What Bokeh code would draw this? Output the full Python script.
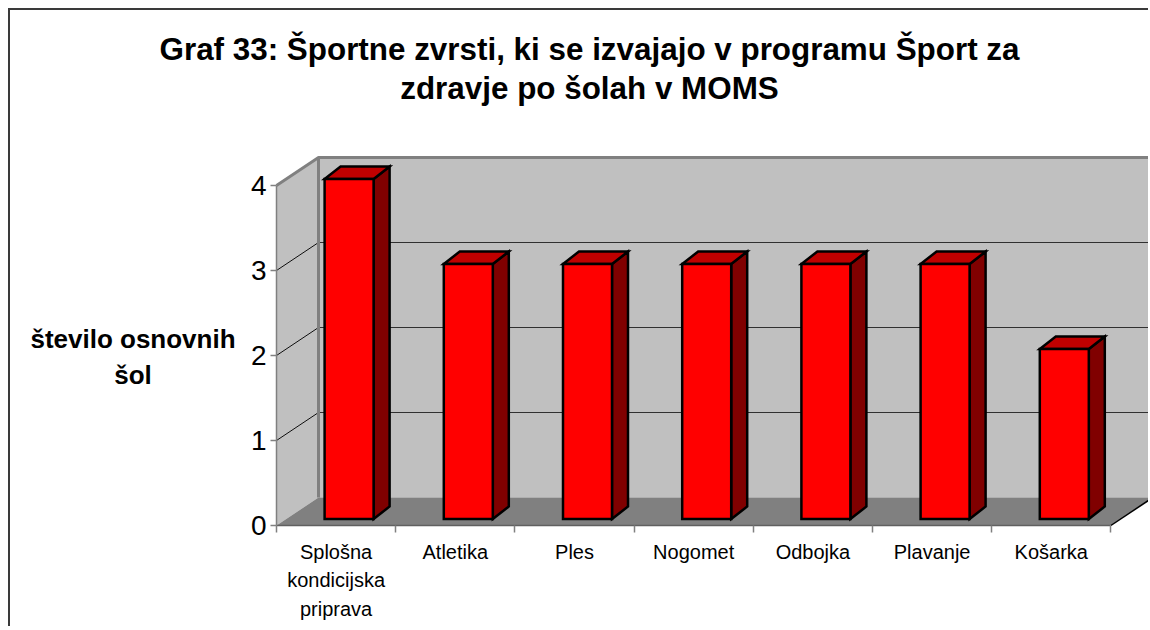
from bokeh.plotting import figure
from bokeh.models import Range1d, FixedTicker, LinearAxis, Label
from bokeh.embed import file_html
from bokeh.resources import INLINE

# ---------------- data ----------------
categories = ["Splošna kondicijska priprava", "Atletika", "Ples", "Nogomet",
              "Odbojka", "Plavanje", "Košarka"]
category_labels = ["Splošna\nkondicijska\npriprava", "Atletika", "Ples", "Nogomet",
                   "Odbojka", "Plavanje", "Košarka"]
values = [4, 3, 3, 3, 3, 3, 2]
y_ticks = [0, 1, 2, 3, 4]
title_line1 = "Graf 33: Športne zvrsti, ki se izvajajo v programu Šport za"
title_line2 = "zdravje po šolah v MOMS"
y_label_line1 = "število osnovnih"
y_label_line2 = "šol"

# ---------------- geometry / style ----------------
PX_X = 119.2          # pixels per category
PX_Y = 85.0           # pixels per unit value
ORIG_X, ORIG_Y = 276, 525      # page position of the front-axis origin
CANVAS_L, CANVAS_T = 10, 10    # page position of the canvas (margin + border)
FIG_W, FIG_H = 1140, 618
DX = 42 / PX_X        # depth offset of back wall (x, data units)
DY = 28 / PX_Y        # depth offset of back wall (y, data units)
BAR_W = 49 / PX_X
BAR_OFF_X = 13 / PX_X
BAR_OFF_Y = 6.5 / PX_Y
BAR_DX = 16 / PX_X
BAR_DY = 12.5 / PX_Y
n = len(categories)
ymax = max(y_ticks)
FONT = "Liberation Sans"


def px_x(page_x):
    return (page_x - ORIG_X) / PX_X


def px_y(page_y):
    return (ORIG_Y - page_y) / PX_Y


p = figure(width=FIG_W, height=FIG_H,
           x_range=Range1d(px_x(CANVAS_L), px_x(CANVAS_L + FIG_W)),
           y_range=Range1d(px_y(CANVAS_T + FIG_H), px_y(CANVAS_T)),
           output_backend="svg", toolbar_location=None,
           x_axis_type=None, y_axis_type=None, min_border=0)
p.outline_line_color = None
p.background_fill_color = "white"
p.border_fill_color = "white"
p.grid.visible = False
p.styles = {"margin-left": "8px", "margin-top": "8px",
            "border-left": "2px solid #3a3a3a", "border-top": "2px solid #3a3a3a",
            "border-right": "none", "border-bottom": "none"}

right_x = n + DX + 1.0
# back wall
p.patch([DX, right_x, right_x, DX], [DY, DY, ymax + DY, ymax + DY],
        fill_color="#c0c0c0", line_color=None)
# side wall
p.patch([0, DX, DX, 0], [0, DY, ymax + DY, ymax], fill_color="#c0c0c0", line_color=None)
# floor
p.patch([0, n, n + DX, DX], [0, 0, DY, DY], fill_color="#808080", line_color=None)

# gridlines
grid_vals = [v for v in y_ticks if 0 < v < ymax]
p.segment(x0=[DX] * len(grid_vals), y0=[v + DY for v in grid_vals],
          x1=[right_x] * len(grid_vals), y1=[v + DY for v in grid_vals],
          line_color="#303030", line_width=1.2)
p.segment(x0=[0] * len(grid_vals), y0=grid_vals,
          x1=[DX] * len(grid_vals), y1=[v + DY for v in grid_vals],
          line_color="#101010", line_width=1)
# wall edges
p.line([DX, DX], [DY, ymax + DY], line_color="#808080", line_width=3)
p.line([0, DX, right_x], [ymax, ymax + DY, ymax + DY], line_color="#808080", line_width=3)
p.line([n, n + DX], [0, DY], line_color="black", line_width=1.5)

# bars
fx, fy, sx, sy, tx, ty = [], [], [], [], [], []
for i, v in enumerate(values):
    x0 = i + 0.5 - BAR_W / 2 + BAR_OFF_X
    x1 = x0 + BAR_W
    y0 = BAR_OFF_Y
    y1 = v + BAR_OFF_Y
    fx.append([x0, x1, x1, x0]); fy.append([y0, y0, y1, y1])
    sx.append([x1, x1 + BAR_DX, x1 + BAR_DX, x1]); sy.append([y0, y0 + BAR_DY, y1 + BAR_DY, y1])
    tx.append([x0, x1, x1 + BAR_DX, x0 + BAR_DX]); ty.append([y1, y1, y1 + BAR_DY, y1 + BAR_DY])
p.patches(sx, sy, fill_color="#800000", line_color="black", line_width=2.5, line_join="miter")
p.patches(tx, ty, fill_color="#c00000", line_color="black", line_width=2.5, line_join="miter")
p.patches(fx, fy, fill_color="#ff0000", line_color="black", line_width=2.5, line_join="miter")

# axes (fixed at the front edge of the 3-D box)
yaxis = LinearAxis(ticker=FixedTicker(ticks=y_ticks, minor_ticks=[]), bounds=(0, ymax),
                   fixed_location=0,
                   axis_line_color="#808080", axis_line_width=1.5,
                   major_tick_line_color="#808080", major_tick_line_width=1.5,
                   major_tick_out=6, major_tick_in=0, minor_tick_line_color=None,
                   major_label_text_font_size="28px", major_label_text_font=FONT,
                   major_label_text_color="black", major_label_standoff=4)
p.add_layout(yaxis, "left")

xaxis = LinearAxis(ticker=FixedTicker(ticks=[i + 0.5 for i in range(n)],
                                      minor_ticks=list(range(n + 1))),
                   bounds=(0, n), fixed_location=0,
                   axis_line_color="#606060", axis_line_width=1.5,
                   major_tick_line_color=None,
                   minor_tick_line_color="#808080", minor_tick_line_width=1.5,
                   minor_tick_out=7, minor_tick_in=0,
                   major_label_overrides={i + 0.5: lab for i, lab in enumerate(category_labels)},
                   major_label_text_font_size="20px", major_label_text_font=FONT,
                   major_label_text_line_height=1.3,
                   major_label_text_color="black", major_label_standoff=8)
p.add_layout(xaxis, "below")

# y label
for txt, base in [(y_label_line1, 338), (y_label_line2, 374)]:
    p.add_layout(Label(x=px_x(132.5), y=px_y(base), text=txt,
                       text_align="center", text_baseline="alphabetic", text_font=FONT,
                       text_font_size="26px", text_font_style="bold", text_color="black"))

# title lines, centred on the whole chart
for txt, base in [(title_line1, 49), (title_line2, 88)]:
    p.add_layout(Label(x=px_x(589), y=px_y(base), text=txt,
                       text_align="center", text_baseline="alphabetic", text_font=FONT,
                       text_font_size="31.4px", text_font_style="bold", text_color="black"))

open("out.html", "w").write(file_html(p, INLINE))
